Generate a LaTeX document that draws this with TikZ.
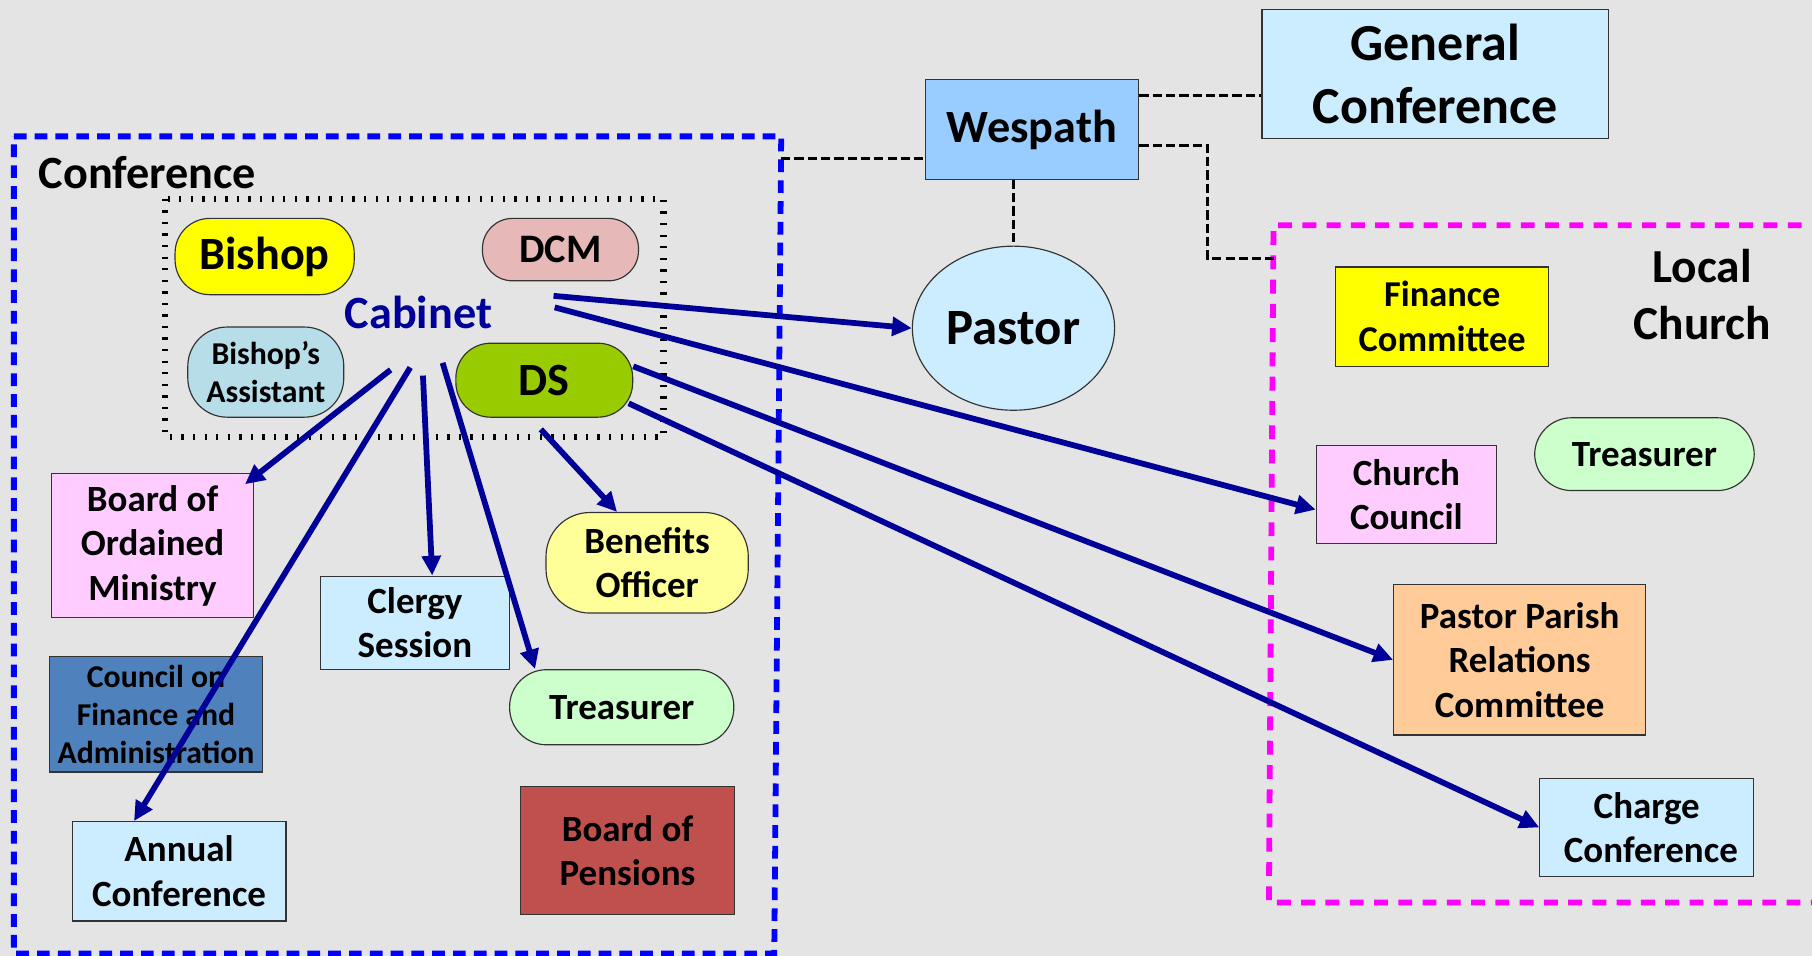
\documentclass[tikz,border=0pt]{standalone}
\usepackage{fontspec}
\setmainfont{Carlito}
\usetikzlibrary{shapes.geometric,arrows.meta}

\definecolor{bgc}{RGB}{228,228,228}
\definecolor{navy}{RGB}{0,0,153}
\definecolor{confc}{RGB}{0,0,255}
\definecolor{localc}{RGB}{255,0,255}
\definecolor{bishopc}{RGB}{255,255,0}
\definecolor{dcmc}{RGB}{230,185,184}
\definecolor{asstc}{RGB}{183,222,232}
\definecolor{dsc}{RGB}{153,204,0}
\definecolor{bomc}{RGB}{255,204,255}
\definecolor{lightc}{RGB}{204,236,255}
\definecolor{benc}{RGB}{255,255,153}
\definecolor{treasc}{RGB}{204,255,204}
\definecolor{cfac}{RGB}{79,129,189}
\definecolor{bopc}{RGB}{192,80,77}
\definecolor{wesc}{RGB}{153,204,255}
\definecolor{pprcc}{RGB}{255,204,153}

\begin{document}
\begin{tikzpicture}[x=1pt,y=-1pt,
    box/.style={draw=black!80, line width=1pt, align=center, inner sep=0pt},
    pill/.style={box, rounded corners=#1},
    pill/.default=28pt,
    txtl/.style={font=\fontsize{40}{48}\selectfont\bfseries},
    txtm/.style={font=\fontsize{32}{38.5}\selectfont\bfseries},
    txts/.style={font=\fontsize{27.5}{33}\selectfont\bfseries},
    arr/.style={draw=navy, line width=5pt, -{Triangle[length=17pt,width=16pt]}},
    link/.style={black, line width=2.5pt, dash pattern=on 8pt off 3.5pt}]

    % Hintergrund
    \useasboundingbox (0,0) rectangle (1568,827);
    \fill[bgc] (0,0) rectangle (1568,827);

    % Conference
    \draw[confc, line width=5pt, dash pattern=on 11pt off 7pt]
        (12,118) -- (676,118) -- (670,825) -- (12,825) -- cycle;
    \node[txtl, anchor=base west] (conflabel) at (30,163) {Conference};
    \draw[line width=5.5pt, dash pattern=on 2pt off 8pt] (143,172) rectangle (574,378);

    \node[pill=30pt, fill=bishopc, minimum width=155pt, minimum height=66pt, txtl] (bishop) at (229,222) {Bishop};
    \node[pill=26pt, fill=dcmc, minimum width=135pt, minimum height=54pt,
          font=\fontsize{35}{42}\selectfont\bfseries] (dcm) at (485,216) {DCM};
    \node[txtl, text=navy] (cabinet) at (362,270) {Cabinet};
    \node[pill=34pt, fill=asstc, minimum width=135pt, minimum height=78pt, txts] (asst) at (230,322) {Bishop’s\\Assistant};
    \node[pill=30pt, fill=dsc, minimum width=153pt, minimum height=64pt, txtl] (ds) at (471,329) {DS};

    \node[box, fill=bomc, minimum width=175pt, minimum height=125pt, txtm] (bom) at (132,472) {Board of\\Ordained\\Ministry};
    \node[box, fill=lightc, minimum width=164pt, minimum height=81pt, txtm] (clergy) at (359,539) {Clergy\\Session};
    \node[pill=38pt, fill=benc, minimum width=175pt, minimum height=87pt, txtm] (benefits) at (560,487) {Benefits\\Officer};
    \node[pill=32pt, fill=treasc, minimum width=194pt, minimum height=65pt, txtm] (treas) at (538,612) {Treasurer};
    \node[box, fill=cfac, minimum width=185pt, minimum height=100pt, txts] (cfa) at (135,618) {Council on\\Finance and\\Administration};
    \node[box, fill=lightc, minimum width=185pt, minimum height=86pt, txtm] (annual) at (155,754) {Annual\\Conference};
    \node[box, fill=bopc, minimum width=185pt, minimum height=111pt, txtm] (pensions) at (543,736) {Board of\\Pensions};

    % Wespath, General Conference, Pastor
    \node[box, fill=wesc, minimum width=185pt, minimum height=86pt, txtl] (wespath) at (893,112) {Wespath};
    \node[box, fill=lightc, minimum width=300pt, minimum height=112pt,
          font=\fontsize{45}{54}\selectfont\bfseries] (general) at (1242,64) {General\\Conference};
    \node[ellipse, draw=black!80, line width=1pt, fill=lightc, minimum width=175pt, minimum height=142pt,
          inner sep=0pt, font=\fontsize{44}{53}\selectfont\bfseries] (pastor) at (877,284) {Pastor};

    % Local Church
    \draw[localc, line width=5pt, dash pattern=on 12pt off 9pt]
        (1580,195) -- (1102,195) -- (1098,781) -- (1580,781);
    \node[align=center, font=\fontsize{41}{49}\selectfont\bfseries] (local) at (1473,255) {Local\\Church};
    \node[box, fill=bishopc, minimum width=184pt, minimum height=86pt,
          font=\fontsize{31.5}{39}\selectfont\bfseries] (finance) at (1248,274) {Finance\\Committee};
    \node[pill=32pt, fill=treasc, minimum width=190pt, minimum height=63pt, txtm] (ltreas) at (1423,393) {Treasurer};
    \node[box, fill=bomc, minimum width=156pt, minimum height=85pt, txtm] (council) at (1217,428) {Church\\Council};
    \node[box, fill=pprcc, minimum width=218pt, minimum height=130pt, txtm] (pprc) at (1315,571) {Pastor Parish\\Relations\\Committee};
    \node[box, fill=lightc, minimum width=185pt, minimum height=85pt, txtm] (charge) at (1425,716) {Charge\\\ Conference};

    % gestrichelte Verbindungen
    \coordinate (confedge) at (676,137);
    \coordinate (wes1) at ([yshift=29pt]wespath.east);
    \coordinate (wes2) at ([yshift=-14pt]wespath.east);
    \coordinate (lcedge) at (1102,224);
    \draw[link] (confedge) -- (confedge -| wespath.west);
    \draw[link] (wes1) -- (wes1 -| general.west);
    \draw[link] (wes2) -- ++(59,0) |- (lcedge);
    \draw[link] (pastor.north |- wespath.south) -- (pastor.north);

    % Pfeile vom Cabinet
    \coordinate (c1) at (338,320);
    \coordinate (c2) at (355,318);
    \coordinate (c3) at (366,325);
    \coordinate (c4) at (383,314);
    \coordinate (c5) at (479,256);
    \coordinate (c6) at (480,266);
    \draw[arr] (c1) -- ([xshift=-8pt,yshift=-10pt]bom.north east);
    \draw[arr] (c2) -- ([xshift=-39pt]annual.north);
    \draw[arr] (c3) -- ([xshift=15pt]clergy.north);
    \draw[arr] (c4) -- ([xshift=-75pt]treas.north);
    \draw[arr] (c5) -- (pastor.west);
    \draw[arr] (c6) -- ([yshift=-13pt]council.west);

    % Pfeile vom DS
    \draw[arr] ([yshift=12pt]ds.east) -- (pprc.west);
    \draw[arr] ([xshift=-4pt,yshift=-20pt]ds.east) -- (charge.west);
    \draw[arr] ([xshift=-3pt,yshift=-10pt]ds.south) -- ([xshift=-26pt]benefits.north);
\end{tikzpicture}
\end{document}
